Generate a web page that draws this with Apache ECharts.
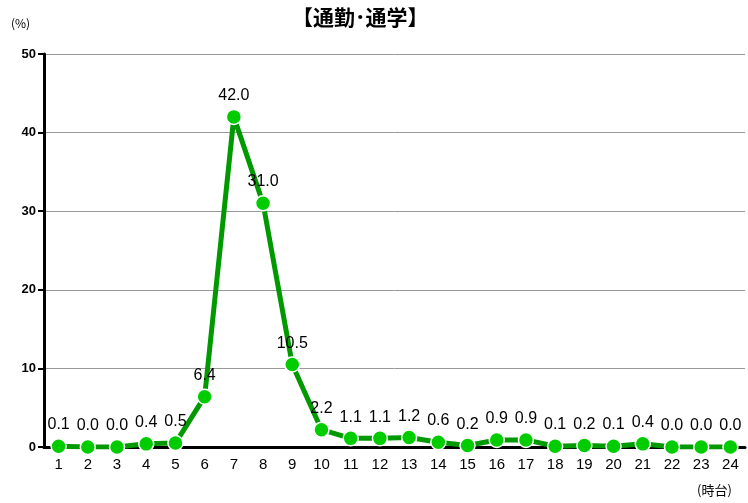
<!DOCTYPE html>
<html><head><meta charset="utf-8">
<script src="https://cdn.jsdelivr.net/npm/echarts@6/dist/echarts.min.js"></script>
<style>html,body{margin:0;padding:0;background:#fff}#c{width:748px;height:503px}</style>
</head><body><div id="c"></div>
<script>
const categories = ['1','2','3','4','5','6','7','8','9','10','11','12','13','14','15','16','17','18','19','20','21','22','23','24'];
const values = [0.1,0.0,0.0,0.4,0.5,6.4,42.0,31.0,10.5,2.2,1.1,1.1,1.2,0.6,0.2,0.9,0.9,0.1,0.2,0.1,0.4,0.0,0.0,0.0];
const yTicks = [0,10,20,30,40,50];
const font = '"Liberation Sans", Arial, sans-serif';
const chart = echarts.init(document.getElementById('c'));
chart.setOption({
  animation:false,
  graphic:[
    {type:'text',left:292,top:7,style:{text:'【通勤･通学】',font:'bold 21px "Noto Sans CJK JP"',fill:'#000'}},
    {type:'text',left:11,top:17,style:{text:'(%)',font:'12px "Noto Sans CJK JP"',fill:'#000'}},
    {type:'text',left:697,top:484,style:{text:'(時台)',font:'13px "Noto Sans CJK JP"',fill:'#000'}}
  ],
  grid:{left:44,right:3,top:54,bottom:56},
  xAxis:{type:'category',data:categories,boundaryGap:true,
    axisLine:{lineStyle:{color:'#000',width:3}},
    axisTick:{alignWithLabel:true,length:5,lineStyle:{color:'#000',width:2}},
    axisLabel:{color:'#000',fontFamily:font,fontSize:15,margin:10}},
  yAxis:{type:'value',min:0,max:50,interval:10,
    axisLine:{show:true,lineStyle:{color:'#000',width:3}},
    axisTick:{show:true,length:6,lineStyle:{color:'#000',width:2}},
    axisLabel:{color:'#000',fontFamily:font,fontSize:13,fontWeight:'bold',margin:8,
      formatter:v=>yTicks.includes(v)?String(v):''},
    splitLine:{lineStyle:{color:'#999',width:1}}},
  series:[{type:'line',data:values,symbol:'circle',symbolSize:15,
    lineStyle:{color:'#009900',width:5},
    itemStyle:{color:'#00cc00',borderColor:'#fff',borderWidth:1.5},
    label:{show:true,position:'top',distance:5,color:'#000',fontFamily:font,fontSize:16,formatter:p=>p.value.toFixed(1)},
    z:3}]
});
</script></body></html>
